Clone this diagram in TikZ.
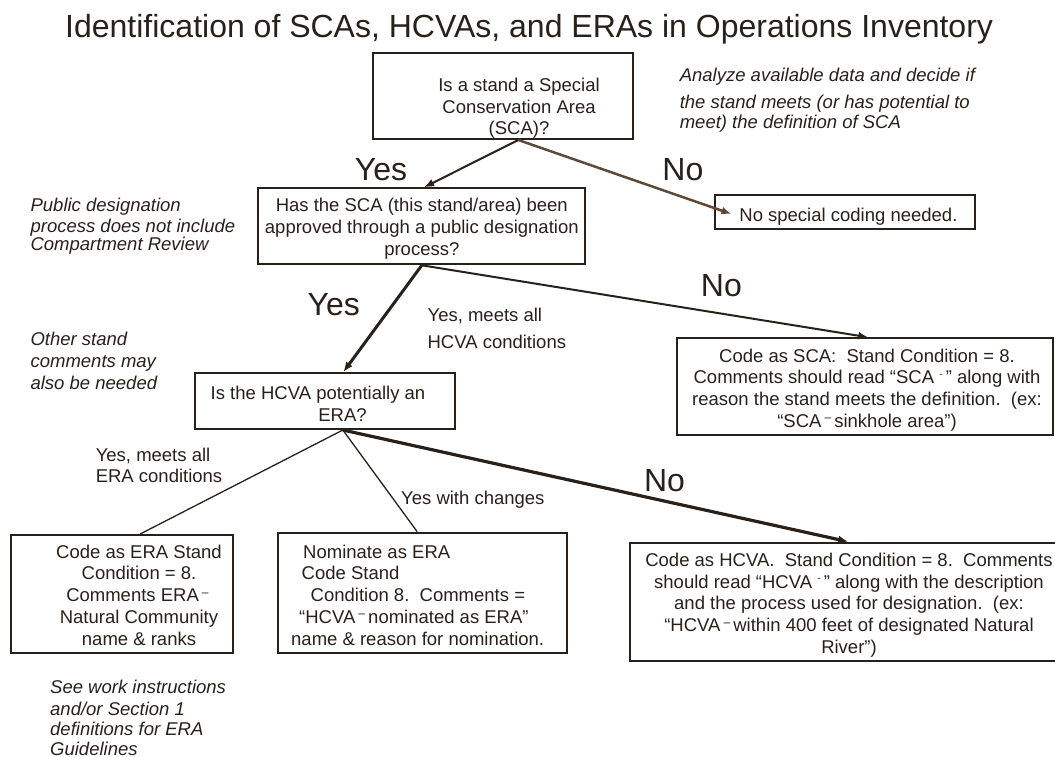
\documentclass[tikz,border=0pt]{standalone}
\usepackage{fontspec}
\setmainfont{Liberation Sans}
\usetikzlibrary{arrows.meta}
\definecolor{ink}{RGB}{40,32,26}
\definecolor{inkbrown}{RGB}{92,74,54}
\newcommand*{\pageW}{1055}
\newcommand*{\pageH}{757}
\newcommand*{\topdash}{\,\raisebox{.55ex}{\fontsize{12}{12}\selectfont –}\,}
\newcommand*{\tophyph}{\raisebox{.7ex}{\fontsize{10}{10}\selectfont -}\,}

\begin{document}
\begin{tikzpicture}[x=1pt,y=-1pt,
	every node/.style={text=ink},
	box/.style={draw=ink,line width=2pt,inner sep=0pt},
	txt/.style={font=\fontsize{18.5}{21.7}\selectfont,inner sep=0pt,align=center},
	note/.style={font=\fontsize{18.5}{21.7}\selectfont\itshape,inner sep=0pt,align=left,anchor=base west},
	big/.style={font=\fontsize{32}{36}\selectfont,inner sep=0pt,anchor=base west},
	link/.style={draw=ink,line width=1.3pt},
	flow/.style={draw=ink,line width=2pt,-{Latex[length=10pt,width=8pt]}}]
	\useasboundingbox (0,0) rectangle (\pageW,\pageH);
	
	\node[big] (title) at (65,37.3) {Identification of SCAs, HCVAs, and ERAs in Operations Inventory};
	
	% boxes
	\node[box,minimum width=260.4,minimum height=86.3] (q1) at (502.9,95.85) {};
	\node[box,minimum width=326.8,minimum height=76] (q2) at (421.8,226.3) {};
	\node[box,minimum width=260.5,minimum height=34] (nospec) at (845,212) {};
	\node[box,minimum width=376.4,minimum height=96.7] (sca) at (864.8,386.65) {};
	\node[box,minimum width=259.7,minimum height=56] (q3) at (324.85,401) {};
	\node[box,minimum width=222.2,minimum height=118.3] (era) at (121.9,594.15) {};
	\node[box,minimum width=288.8,minimum height=120.6] (nom) at (422.4,593) {};
	\node[box,minimum width=435.6,minimum height=118] (hcva) at (848.2,601.7) {};
	
	% box texts (base = last line)
	\node[txt,anchor=base] (q1txt) at (519,135) {Is a stand a Special\\Conservation Area\\(SCA)?};
	\node[txt,anchor=base] (q2txt) at (421.8,255) {Has the SCA (this stand/area) been\\approved through a public designation\\process?};
	\node[txt,anchor=base west] (nospectxt) at (739.2,221) {No special coding needed.};
	\node[txt,anchor=base] (scatxt) at (867,427.3) {Code as SCA:\ \ Stand Condition = 8.\\Comments should read “SCA \tophyph” along with\\reason the stand meets the definition.\ \ (ex:\\“SCA\topdash sinkhole area”)};
	\node[txt,anchor=base] (q3txt) at (318,421) {Is the HCVA potentially an\\\hspace*{49pt}ERA?};
	\node[txt,anchor=base] (eratxt) at (139,645) {Code as ERA Stand\\Condition = 8.\\Comments ERA\topdash\\Natural Community\\name \& ranks};
	\node[txt,align=left,anchor=base west] (nomtxt) at (291,645) {\hspace*{12pt}Nominate as ERA\\\hspace*{10.5pt}Code Stand\\\hspace*{19.5pt}Condition 8.\ \ Comments =\\\hspace*{8pt}“HCVA\topdash nominated as ERA”\\name \& reason for nomination.};
	\node[txt,anchor=base] (hcvatxt) at (849,653.3) {Code as HCVA.\ \ Stand Condition = 8.\ \ Comments\\should read “HCVA \tophyph” along with the description\\and the process used for designation.\ \ (ex:\\“HCVA\topdash within 400 feet of designated Natural\\River”)};
	
	% branch labels
	\node[big] (yes1) at (354.7,180) {Yes};
	\node[big] (no1) at (662.2,180) {No};
	\node[big] (yes2) at (307.4,315) {Yes};
	\node[big] (no2) at (700.7,296.7) {No};
	\node[big] (no3) at (643.8,491.7) {No};
	\node[txt,align=left,anchor=base west] (hcvacond) at (427.4,348.3) {Yes, meets all\\[5pt]HCVA conditions};
	\node[txt,align=left,anchor=base west] (eracond) at (95.6,482.7) {Yes, meets all\\ERA conditions};
	\node[txt,anchor=base west] (changes) at (401,504.3) {Yes with changes};
	
	% side notes
	\node[note] (nsca) at (679.6,128.3) {Analyze available data and decide if\\[5pt]the stand meets (or has potential to\\[-1.7pt]meet) the definition of SCA};
	\node[note] (npub) at (30.4,250) {Public designation\\process does not include\\[-4.4pt]Compartment Review};
	\node[note] (nother) at (30.4,389) {Other stand\\comments may\\also be needed};
	\node[note] (nsee) at (50,755) {See work instructions\\and/or Section 1\\[-1.7pt]definitions for ERA\\[-1.7pt]Guidelines};
	
	% connectors
	\coordinate (q1out) at ([xshift=15.4pt]q1.south);
	\coordinate (q3out) at ([xshift=18pt]q3.south);
	\draw[flow] (q1out) -- ([xshift=2.2pt]q2.north);
	\draw[flow,draw=inkbrown,line width=2.5pt] (q1out) -- ([xshift=17.7pt,yshift=-2pt]nospec.west);
	\draw[flow,line width=3pt] (q2.south) -- ([xshift=18.5pt]q3.north);
	\draw[flow] (q2.south) -- ([xshift=3.5pt]sca.north);
	\draw[link] (q3out) -- ([xshift=18.3pt]era.north);
	\draw[link] (q3out) -- ([xshift=-5.2pt]nom.north);
	\draw[flow,line width=3.2pt] (q3out) -- (hcva.north);
\end{tikzpicture}
\end{document}
